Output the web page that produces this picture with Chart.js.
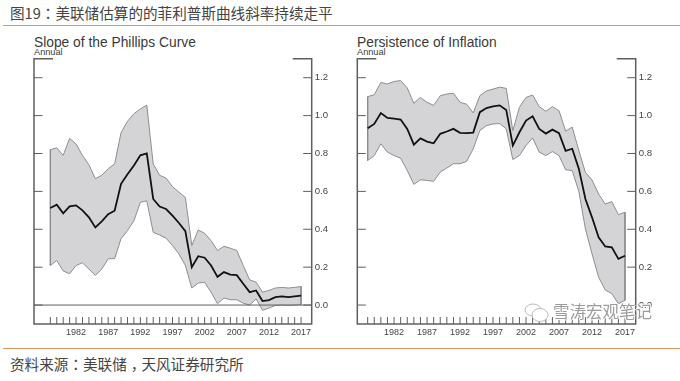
<!DOCTYPE html>
<html>
<head>
<meta charset="utf-8">
<script src="https://cdn.jsdelivr.net/npm/chart.js@4"></script>
<style>
  html, body { margin: 0; padding: 0; background: #fff; }
  #page { position: relative; width: 680px; height: 381px; overflow: hidden; font-family: "Liberation Sans", Arial, sans-serif; }
  canvas { position: absolute; top: 50px; }
  .cjk { position: absolute; left: 10px; font: 14.6px "Noto Sans CJK SC", sans-serif; color: #444; white-space: nowrap; line-height: 18px; }
  .cjk span { font-family: "Noto Sans CJK TC", sans-serif; }
  .cjk span.low { font-family: "Noto Sans CJK SC", sans-serif; position: relative; left: 4px; }
  .rule { position: absolute; left: 3px; right: 0; height: 1px; background: #d8995a; }
  .panel-title { position: absolute; top: 35px; font-size: 13.8px; color: #3a3a3a; white-space: nowrap; line-height: 15px; }
  .panel-unit { position: absolute; top: 47px; font-size: 9.2px; color: #3a3a3a; white-space: nowrap; line-height: 10px; }
  #mark { position: absolute; left: 553px; top: 301px; font: 16.5px "Noto Sans CJK SC", sans-serif; color: #9c9c9c; white-space: nowrap; line-height: 20px;
    text-shadow: 1px 0 #fff, -1px 0 #fff, 0 1px #fff, 0 -1px #fff; }
  #markIcon { position: absolute; left: 523px; top: 302px; width: 26px; height: 20px; }
</style>
</head>
<body>
<div id="page">
  <div class="cjk" style="top:4px">图19<span>：</span>美联储估算的的菲利普斯曲线斜率持续走平</div>
  <div class="rule" style="top:25px"></div>

  <div class="panel-title" style="left:34px">Slope of the Phillips Curve</div>
  <div class="panel-unit" style="left:34px">Annual</div>
  <div class="panel-title" style="left:357px">Persistence of Inflation</div>
  <div class="panel-unit" style="left:357px">Annual</div>

  <canvas id="slopeChart" width="340" height="300" style="left:0"></canvas>
  <canvas id="persistChart" width="340" height="300" style="left:340px"></canvas>

  <svg id="markIcon" viewBox="0 0 26 20">
    <ellipse cx="10" cy="8" rx="8" ry="6" fill="#fff" stroke="#bbb"></ellipse>
    <ellipse cx="17" cy="13" rx="8" ry="6.5" fill="#fff" stroke="#bbb"></ellipse>
  </svg>
  <div id="mark">雪涛宏观笔记</div>

  <div class="rule" style="top:348px"></div>
  <div class="cjk" style="top:355px">资料来源<span>：</span>美联储<span class="low">，</span>天风证券研究所</div>
</div>

<script>
//========================
// Data
//========================
const years = [1978,1979,1980,1981,1982,1983,1984,1985,1986,1987,1988,1989,1990,1991,1992,1993,1994,1995,1996,1997,
  1998,1999,2000,2001,2002,2003,2004,2005,2006,2007,2008,2009,2010,2011,2012,2013,2014,2015,2016,2017];
const xLabelYears = [1982,1987,1992,1997,2002,2007,2012,2017];
const yTickValues = [0,0.2,0.4,0.6,0.8,1.0,1.2];

const slopeUpper = [.82,.83,.79,.88,.85,.79,.74,.667,.685,.72,.745,.91,.97,1.01,1.035,1.055,.745,.685,.67,.625,
  .596,.568,.314,.396,.379,.34,.288,.31,.30,.288,.209,.133,.121,.068,.077,.09,.093,.09,.093,.098];
const slopeMid = [.512,.53,.484,.521,.526,.50,.463,.41,.442,.48,.498,.64,.69,.737,.79,.80,.56,.52,.507,.472,
  .433,.39,.20,.258,.25,.209,.149,.174,.161,.158,.112,.068,.077,.021,.026,.042,.046,.042,.046,.05];
const slopeLower = [.209,.235,.18,.165,.209,.223,.19,.156,.19,.244,.245,.35,.393,.445,.542,.55,.384,.37,.353,.314,
  .27,.209,.09,.116,.12,.068,.007,.037,.028,.028,.01,0,.033,-.028,-.016,-.002,0,-.002,0,.002];

const persistUpper = [1.10,1.11,1.175,1.167,1.18,1.185,1.146,1.065,1.096,1.07,1.054,1.105,1.114,1.118,1.07,1.06,1.014,1.105,1.13,1.14,
  1.15,1.144,.92,1.044,1.096,1.109,1.047,1.023,1.047,1.026,.918,.939,.816,.70,.66,.586,.533,.546,.477,.49];
const persistMid = [.933,.956,1.014,.988,.984,.979,.93,.847,.88,.863,.854,.904,.916,.93,.909,.907,.91,1.018,1.04,1.049,
  1.054,1.03,.842,.912,.974,.996,.93,.905,.926,.907,.814,.825,.72,.56,.463,.358,.309,.305,.244,.26];
const persistLower = [.763,.789,.851,.807,.789,.775,.71,.637,.661,.658,.653,.702,.723,.746,.746,.758,.825,.921,.947,.956,
  .958,.93,.768,.789,.842,.882,.807,.789,.81,.789,.714,.71,.60,.402,.27,.147,.08,.06,.007,.025];

//========================
// Frame and inward ticks
//========================
const frameColor = '#5f5f5f';
const bandEdge = '#8d8d8f';

const framePlugin = {
  id: 'frame',
  afterDraw(chart, args, opts) {
    const { ctx, chartArea: a, scales } = chart;
    ctx.save();
    ctx.strokeStyle = frameColor;
    ctx.lineWidth = 1.5;
    ctx.beginPath();
    // top stubs, sides and bottom
    ctx.moveTo(a.left + 19, a.top); ctx.lineTo(a.left, a.top); ctx.lineTo(a.left, a.bottom);
    ctx.lineTo(a.right, a.bottom); ctx.lineTo(a.right, a.top); ctx.lineTo(a.right - 19, a.top);
    ctx.stroke();

    ctx.lineWidth = 1;
    ctx.beginPath();
    yTickValues.forEach(v => {
      const y = scales.y.getPixelForValue(v);
      ctx.moveTo(a.left, y); ctx.lineTo(a.left + 8.5, y);
      ctx.moveTo(a.right, y); ctx.lineTo(a.right - 8.5, y);
    });
    years.forEach(v => {
      const x = scales.x.getPixelForValue(v);
      ctx.moveTo(x, a.bottom); ctx.lineTo(x, a.bottom - 7);
    });
    if (opts.zeroLine) {
      const y0 = scales.y.getPixelForValue(0);
      ctx.moveTo(a.left, y0); ctx.lineTo(a.right, y0);
    }
    ctx.stroke();
    ctx.restore();
  }
};

//========================
// Panels
//========================
function toPoints(values) {
  return values.map((v, i) => ({ x: years[i], y: v }));
}

// closes the band at one end year
function edgeDataset(upper, lower, i) {
  return {
    data: [{ x: years[i], y: upper[i] }, { x: years[i], y: lower[i] }],
    fill: false, borderColor: bandEdge, borderWidth: 1, order: 2
  };
}

function makePanel(id, upper, mid, lower, cfg) {
  const fontFamily = '"Liberation Sans", Arial, sans-serif';
  const last = years.length - 1;
  return new Chart(document.getElementById(id), {
    type: 'line',
    data: {
      datasets: [
        { data: toPoints(upper), fill: '+1', backgroundColor: '#d4d4d7', borderColor: bandEdge, borderWidth: 1, order: 3 },
        { data: toPoints(lower), fill: false, borderColor: bandEdge, borderWidth: 1, order: 2 },
        edgeDataset(upper, lower, 0),
        edgeDataset(upper, lower, last),
        { data: toPoints(mid), fill: false, borderColor: '#111', borderWidth: 1.8, order: 1 }
      ]
    },
    options: {
      responsive: false,
      animation: false,
      elements: { point: { radius: 0 }, line: { tension: 0 } },
      layout: { padding: { left: cfg.left, top: 8, right: 0, bottom: 0 } },
      plugins: { legend: { display: false }, tooltip: { enabled: false }, frame: { zeroLine: cfg.zeroLine } },
      scales: {
        x: {
          type: 'linear',
          min: cfg.xMin,
          max: cfg.xMax,
          grid: { display: false, drawTicks: false },
          border: { display: false },
          afterBuildTicks: axis => { axis.ticks = xLabelYears.map(v => ({ value: v })); },
          afterFit: axis => { axis.height = 26; },
          ticks: { autoSkip: false, maxRotation: 0, padding: 3, color: '#444', font: { family: fontFamily, size: 9 }, callback: v => String(v) }
        },
        y: {
          position: 'right',
          min: -0.1,
          max: 1.3,
          grid: { display: false, drawTicks: false },
          border: { display: false },
          afterBuildTicks: axis => { axis.ticks = yTickValues.map(v => ({ value: v })); },
          afterFit: axis => { axis.width = cfg.axisWidth; },
          ticks: { padding: 3, color: '#444', font: { family: fontFamily, size: 9.6 }, callback: v => v.toFixed(1) }
        }
      }
    },
    plugins: [framePlugin]
  });
}

makePanel('slopeChart', slopeUpper, slopeMid, slopeLower,
  { left: 34, axisWidth: 28.3, xMin: 1975.46, xMax: 2018.65, zeroLine: true });
makePanel('persistChart', persistUpper, persistMid, persistLower,
  { left: 17.3, axisWidth: 44.3, xMin: 1976.43, xMax: 2018.62, zeroLine: false });
</script>
</body>
</html>
